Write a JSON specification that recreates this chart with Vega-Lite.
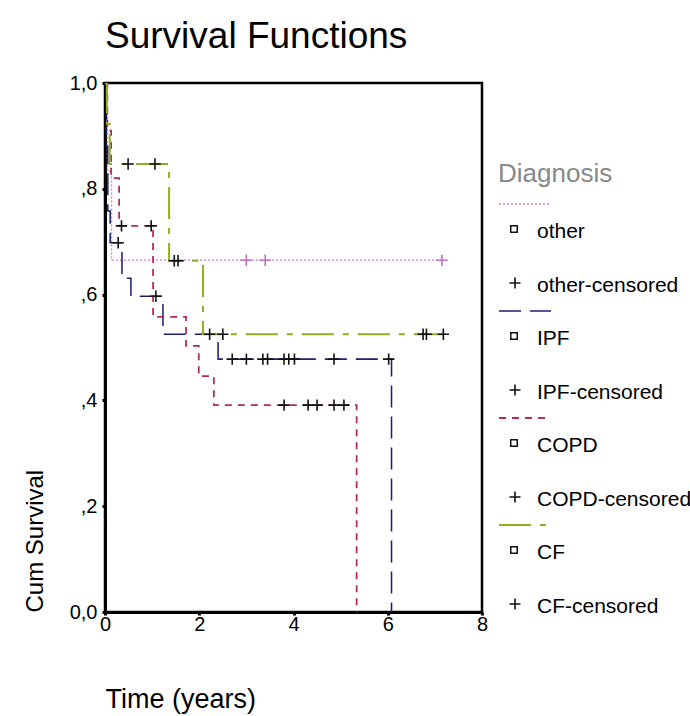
{
  "$schema": "https://vega.github.io/schema/vega-lite/v6.json",
  "padding": {"left": 21, "top": 16, "right": 0, "bottom": 0},
  "background": "white",
  "bounds": "flush",
  "spacing": 16,
  "config": {
    "font": "Liberation Sans",
    "view": {"stroke": "#000", "strokeWidth": 2.5},
    "axis": {"domainColor": "#000", "domainWidth": 3, "tickColor": "#000", "tickWidth": 3, "tickSize": 3, "labelColor": "#000", "titleColor": "#000", "grid": false, "labelFont": "Liberation Sans", "titleFont": "Liberation Sans", "titleFontWeight": "normal"}
  },
  "resolve": {"scale": {"x": "independent", "y": "independent"}},
  "datasets": {
    "steps": [
      {"diagnosis": "other", "time": 0, "survival": 1},
      {"diagnosis": "other", "time": 0.05, "survival": 0.833},
      {"diagnosis": "other", "time": 0.14, "survival": 0.665},
      {"diagnosis": "other", "time": 7.15, "survival": 0.665},
      {"diagnosis": "IPF", "time": 0, "survival": 1},
      {"diagnosis": "IPF", "time": 0.03, "survival": 0.88},
      {"diagnosis": "IPF", "time": 0.06, "survival": 0.758},
      {"diagnosis": "IPF", "time": 0.11, "survival": 0.698},
      {"diagnosis": "IPF", "time": 0.36, "survival": 0.631},
      {"diagnosis": "IPF", "time": 0.55, "survival": 0.597},
      {"diagnosis": "IPF", "time": 1.23, "survival": 0.525},
      {"diagnosis": "IPF", "time": 2.4, "survival": 0.478},
      {"diagnosis": "IPF", "time": 6.08, "survival": 0},
      {"diagnosis": "COPD", "time": 0, "survival": 1},
      {"diagnosis": "COPD", "time": 0.05, "survival": 0.91},
      {"diagnosis": "COPD", "time": 0.13, "survival": 0.82},
      {"diagnosis": "COPD", "time": 0.3, "survival": 0.73},
      {"diagnosis": "COPD", "time": 1.02, "survival": 0.558},
      {"diagnosis": "COPD", "time": 1.72, "survival": 0.503},
      {"diagnosis": "COPD", "time": 1.99, "survival": 0.446},
      {"diagnosis": "COPD", "time": 2.31, "survival": 0.391},
      {"diagnosis": "COPD", "time": 5.34, "survival": 0},
      {"diagnosis": "CF", "time": 0, "survival": 1},
      {"diagnosis": "CF", "time": 0.04, "survival": 0.923},
      {"diagnosis": "CF", "time": 0.1, "survival": 0.847},
      {"diagnosis": "CF", "time": 1.36, "survival": 0.664},
      {"diagnosis": "CF", "time": 2.08, "survival": 0.525},
      {"diagnosis": "CF", "time": 7.18, "survival": 0.525}
    ],
    "censors": [
      {"diagnosis": "other", "time": 3.0, "survival": 0.665},
      {"diagnosis": "other", "time": 3.4, "survival": 0.665},
      {"diagnosis": "other", "time": 7.15, "survival": 0.665},
      {"diagnosis": "IPF", "time": 0.28, "survival": 0.698},
      {"diagnosis": "IPF", "time": 1.08, "survival": 0.597},
      {"diagnosis": "IPF", "time": 2.22, "survival": 0.525},
      {"diagnosis": "IPF", "time": 2.7, "survival": 0.478},
      {"diagnosis": "IPF", "time": 3.0, "survival": 0.478},
      {"diagnosis": "IPF", "time": 3.35, "survival": 0.478},
      {"diagnosis": "IPF", "time": 3.45, "survival": 0.478},
      {"diagnosis": "IPF", "time": 3.8, "survival": 0.478},
      {"diagnosis": "IPF", "time": 3.9, "survival": 0.478},
      {"diagnosis": "IPF", "time": 4.02, "survival": 0.478},
      {"diagnosis": "IPF", "time": 4.86, "survival": 0.478},
      {"diagnosis": "IPF", "time": 6.02, "survival": 0.478},
      {"diagnosis": "COPD", "time": 0.35, "survival": 0.73},
      {"diagnosis": "COPD", "time": 0.98, "survival": 0.73},
      {"diagnosis": "COPD", "time": 3.8, "survival": 0.391},
      {"diagnosis": "COPD", "time": 4.31, "survival": 0.391},
      {"diagnosis": "COPD", "time": 4.5, "survival": 0.391},
      {"diagnosis": "COPD", "time": 4.86, "survival": 0.391},
      {"diagnosis": "COPD", "time": 5.07, "survival": 0.391},
      {"diagnosis": "CF", "time": 0.49, "survival": 0.847},
      {"diagnosis": "CF", "time": 1.06, "survival": 0.847},
      {"diagnosis": "CF", "time": 1.47, "survival": 0.664},
      {"diagnosis": "CF", "time": 1.55, "survival": 0.664},
      {"diagnosis": "CF", "time": 2.5, "survival": 0.525},
      {"diagnosis": "CF", "time": 6.75, "survival": 0.525},
      {"diagnosis": "CF", "time": 6.82, "survival": 0.525},
      {"diagnosis": "CF", "time": 7.18, "survival": 0.525}
    ],
    "legend": [
      {"diagnosis": "other", "censoredLabel": "other-censored"},
      {"diagnosis": "IPF", "censoredLabel": "IPF-censored"},
      {"diagnosis": "COPD", "censoredLabel": "COPD-censored"},
      {"diagnosis": "CF", "censoredLabel": "CF-censored"}
    ]
  },
  "hconcat": [
    {
      "width": 377,
      "height": 529,
      "title": {"text": "Survival Functions", "anchor": "start", "frame": "group", "fontSize": 37, "fontWeight": "normal", "offset": 17, "color": "#000", "font": "Liberation Sans"},
      "layer": [
        {
          "data": {"name": "steps"},
          "mark": {"type": "line", "interpolate": "step-after", "clip": true},
          "encoding": {
            "x": {"field": "time", "type": "quantitative", "scale": {"domain": [0, 8], "nice": false, "zero": false},
              "axis": {"values": [0, 2, 4, 6, 8], "format": "d", "title": "Time (years)", "titleAnchor": "start", "titleFontSize": 27, "titlePadding": 52, "labelFontSize": 20, "labelPadding": -1, "labelFlush": false}},
            "y": {"field": "survival", "type": "quantitative", "scale": {"domain": [0, 1], "nice": false},
              "axis": {"values": [0, 0.2, 0.4, 0.6, 0.8, 1], "title": "Cum Survival", "titleAnchor": "start", "titleFontSize": 24, "titlePadding": 22, "labelFontSize": 20, "labelPadding": 5, "labelFlush": false,
                "labelExpr": "datum.value == 0 ? '0,0' : datum.value == 1 ? '1,0' : ',' + format(datum.value * 10, '.0f')"}},
            "color": {"field": "diagnosis", "type": "nominal", "scale": {"domain": ["other", "IPF", "COPD", "CF"], "range": ["#c77dd6", "#1b1f78", "#b52a55", "#8fae22"]}, "legend": null},
            "strokeDash": {"field": "diagnosis", "type": "nominal", "scale": {"domain": ["other", "IPF", "COPD", "CF"], "range": [[2, 2], [22, 9], [7, 6], [32, 9, 6, 9]]}, "legend": null},
            "strokeWidth": {"field": "diagnosis", "type": "nominal", "scale": {"domain": ["other", "IPF", "COPD", "CF"], "range": [1.3, 2, 2, 2]}, "legend": null}
          }
        },
        {
          "data": {"name": "censors"},
          "mark": {"type": "point", "shape": "M-1,0H1M0,-1V1", "size": 130, "filled": false, "strokeWidth": 1.6, "opacity": 1},
          "encoding": {
            "x": {"field": "time", "type": "quantitative"},
            "y": {"field": "survival", "type": "quantitative"},
            "color": {"condition": {"test": "datum.diagnosis === 'other'", "value": "#c070c0"}, "value": "#111"}
          }
        }
      ]
    },
    {
      "width": 190,
      "height": 442,
      "view": {"stroke": null},
      "title": {"text": "Diagnosis", "anchor": "start", "frame": "group", "orient": "top", "offset": -104, "fontSize": 26, "fontWeight": "normal", "color": "#888", "font": "Liberation Sans"},
      "data": {"name": "legend"},
      "encoding": {
        "y": {"field": "diagnosis", "type": "nominal", "sort": ["other", "IPF", "COPD", "CF"], "scale": {"type": "point", "padding": 0.5654, "align": 1}, "axis": null}
      },
      "layer": [
        {
          "mark": {"type": "point", "shape": "M-1,0H1", "size": 2704, "filled": false, "x": 27, "opacity": 1},
          "encoding": {
            "color": {"field": "diagnosis", "type": "nominal", "scale": {"domain": ["other", "IPF", "COPD", "CF"], "range": ["#c77dd6", "#1b1f78", "#b52a55", "#8fae22"]}, "legend": null},
            "strokeDash": {"field": "diagnosis", "type": "nominal", "scale": {"domain": ["other", "IPF", "COPD", "CF"], "range": [[2, 2], [22, 9], [7, 6], [32, 9, 6, 9]]}, "legend": null},
            "strokeWidth": {"field": "diagnosis", "type": "nominal", "scale": {"domain": ["other", "IPF", "COPD", "CF"], "range": [1.3, 2, 2, 2]}, "legend": null}
          }
        },
        {
          "mark": {"type": "point", "shape": "square", "size": 42, "filled": false, "strokeWidth": 1.5, "color": "#111", "x": 16, "yOffset": 25, "opacity": 1}
        },
        {
          "mark": {"type": "point", "shape": "M-1,0H1M0,-1V1", "size": 121, "filled": false, "strokeWidth": 1.6, "color": "#111", "x": 17, "yOffset": 79, "opacity": 1}
        },
        {
          "mark": {"type": "text", "align": "left", "baseline": "middle", "fontSize": 21, "x": 39, "yOffset": 28, "color": "#000"},
          "encoding": {"text": {"field": "diagnosis"}}
        },
        {
          "mark": {"type": "text", "align": "left", "baseline": "middle", "fontSize": 21, "x": 39, "yOffset": 82, "color": "#000"},
          "encoding": {"text": {"field": "censoredLabel"}}
        }
      ]
    }
  ]
}
